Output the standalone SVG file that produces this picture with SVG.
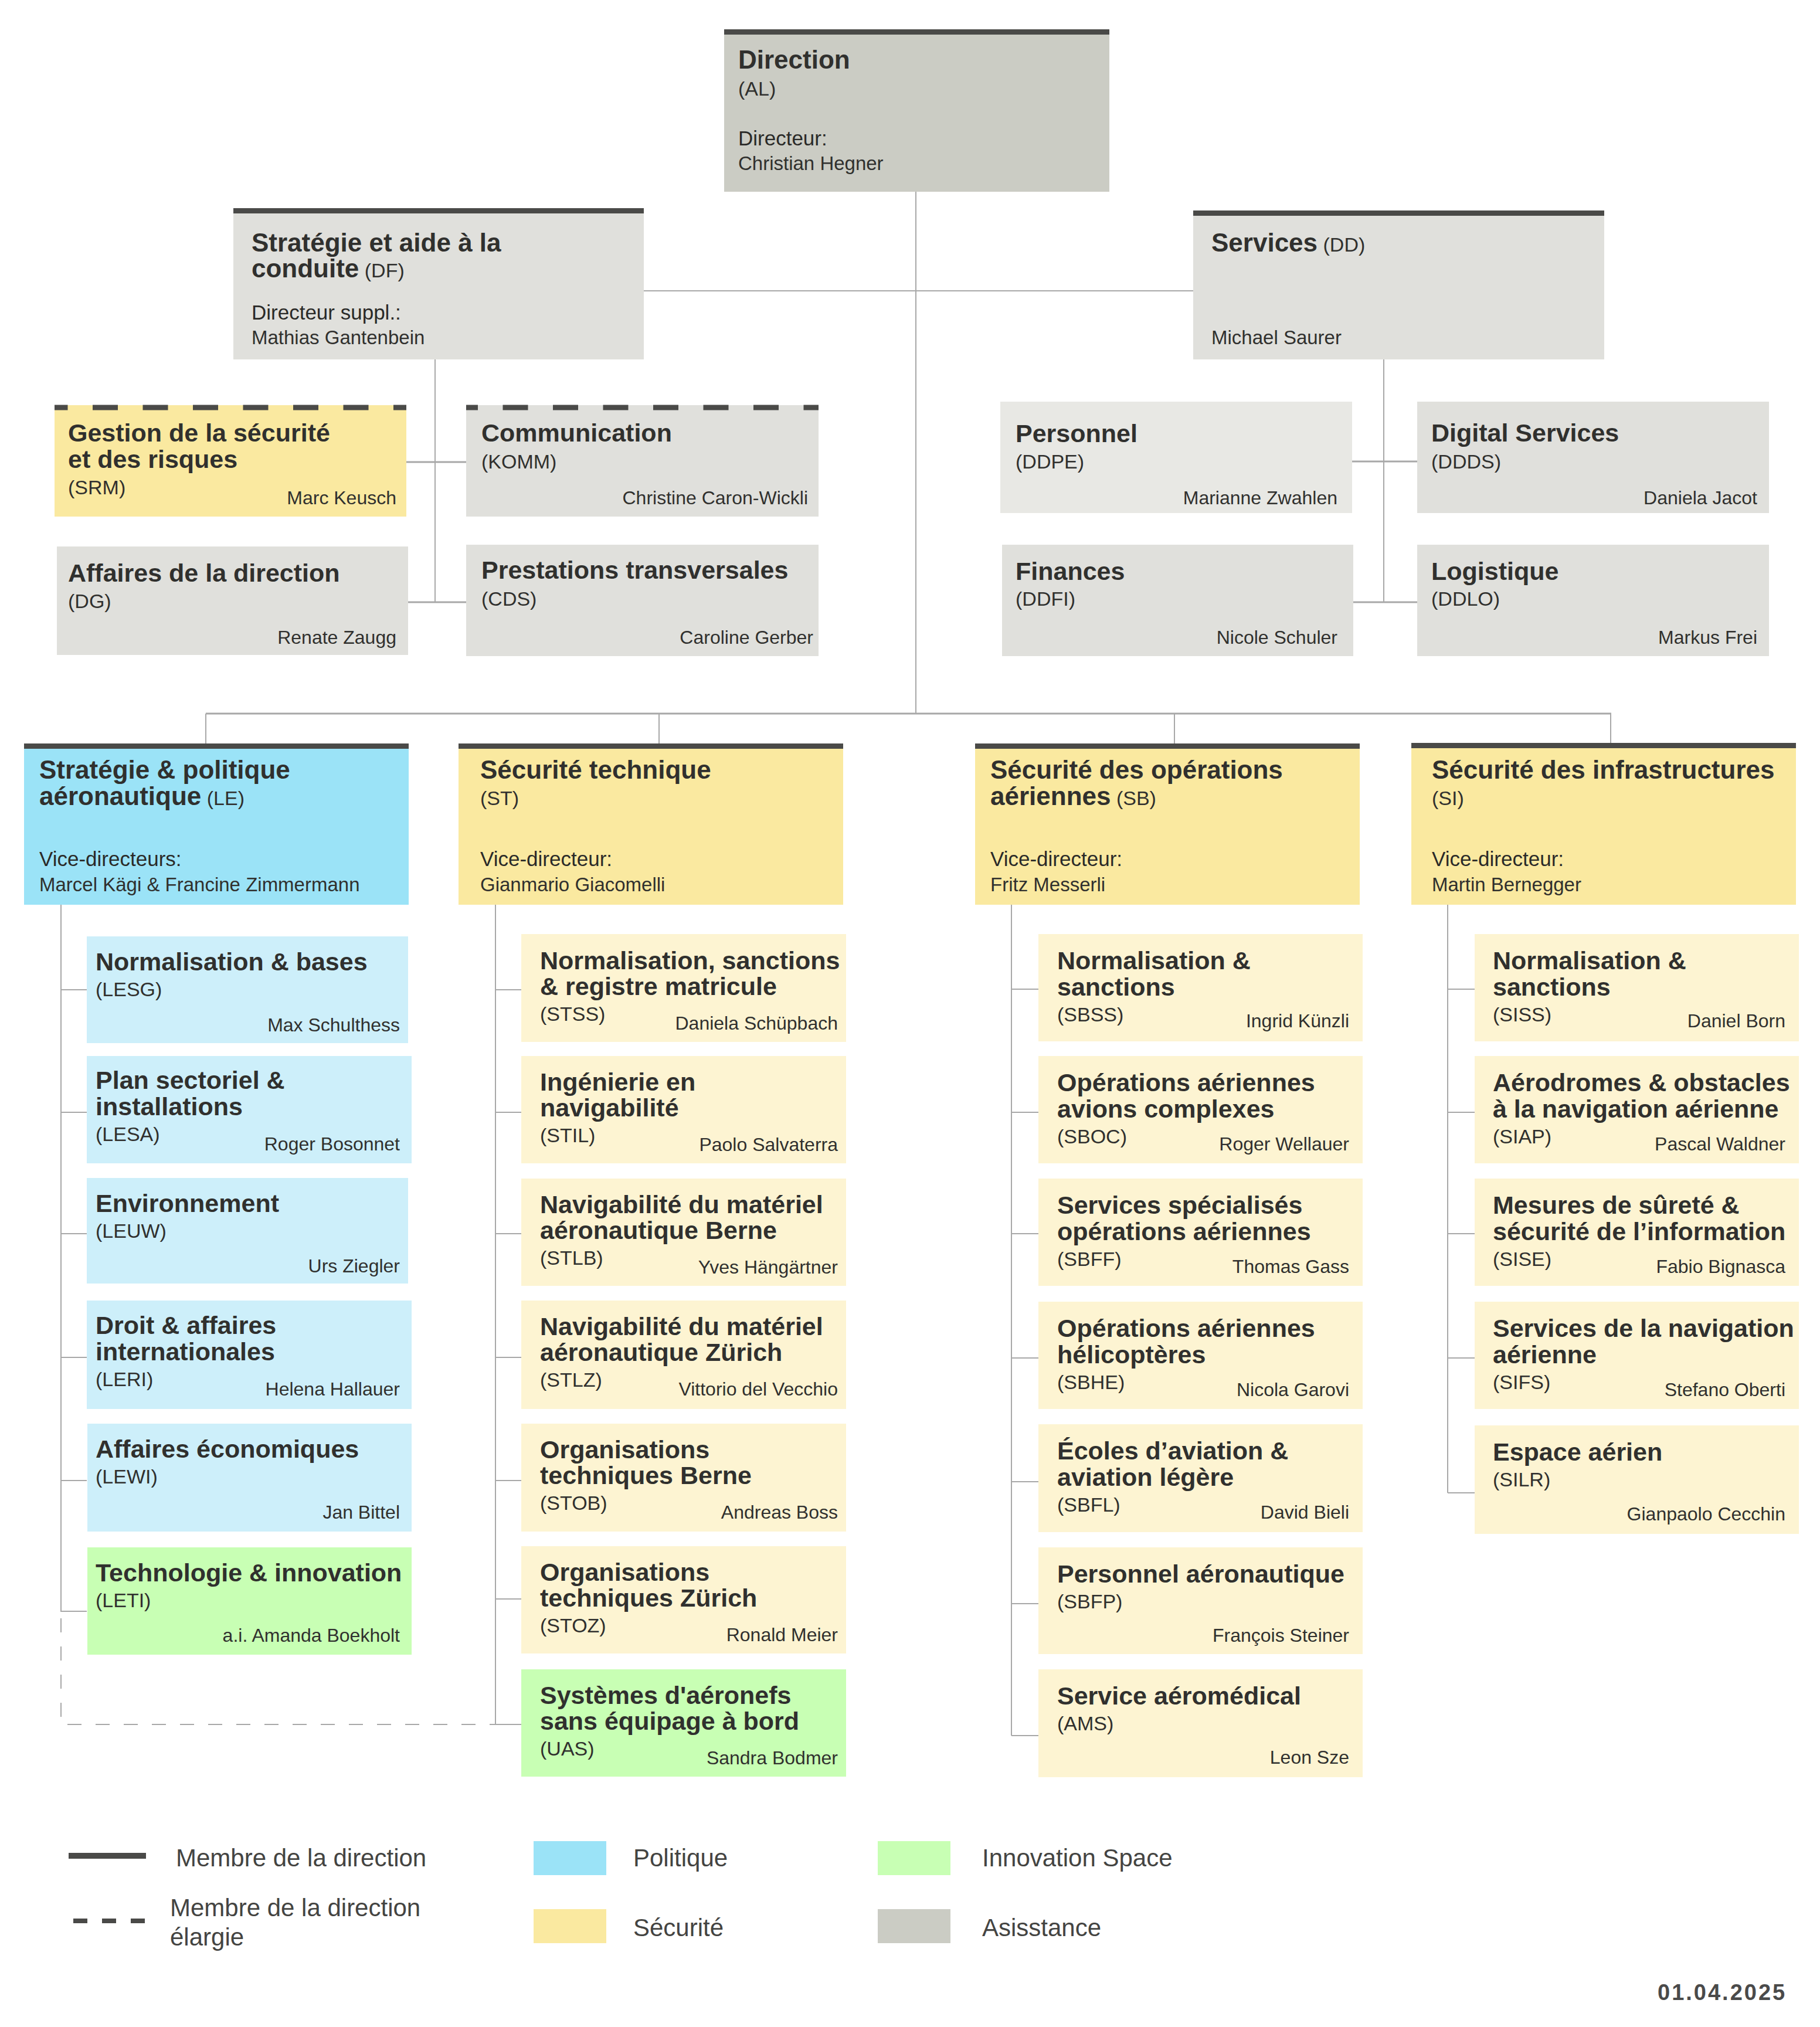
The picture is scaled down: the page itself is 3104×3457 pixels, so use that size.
<svg xmlns="http://www.w3.org/2000/svg" width="3104" height="3457" viewBox="0 0 3104 3457">
<style>
text{font-family:"Liberation Sans",Arial,sans-serif;fill:#30302e}
.h{font-size:44px;font-weight:bold}
.ct{font-size:43px;font-weight:bold}
.c{font-size:34px;font-weight:normal}
.n{font-size:33px}
.ne{font-size:32px;text-anchor:end}
.l{font-size:35px;fill:#2a2a28}
.lg{font-size:42px;fill:#444442}
.bar{fill:#4a4a48}
.gray{fill:#e0e0dc}
.grayl{fill:#e8e8e4}
.dir{fill:#cbccc4}
.blue{fill:#9be3f7}
.bluel{fill:#cdeffa}
.yel{fill:#fae9a0}
.yell{fill:#fdf4d2}
.grn{fill:#c8ffb4}
.cn{stroke:#a8a8a8;stroke-width:2;fill:none}
.cn3{stroke:#a8a8a8;stroke-width:3;fill:none}
.dash{stroke:#a8a8a8;stroke-width:2;fill:none;stroke-dasharray:24 24}
.tb{stroke:#4a4a48;stroke-width:9;fill:none;stroke-dasharray:43 42.5}
</style>
<rect width="3104" height="3457" fill="#ffffff"/>

<g id="connectors">
<line class="cn" x1="1562" y1="327" x2="1562" y2="1217"/>
<line class="cn" x1="1098" y1="496" x2="2035" y2="496"/>
<line class="cn" x1="742" y1="613" x2="742" y2="1028"/>
<line class="cn3" x1="693" y1="788" x2="795" y2="788"/>
<line class="cn3" x1="696" y1="1027" x2="795" y2="1027"/>
<line class="cn" x1="2360" y1="613" x2="2360" y2="1027"/>
<line class="cn3" x1="2306" y1="787" x2="2417" y2="787"/>
<line class="cn3" x1="2308" y1="1027" x2="2417" y2="1027"/>
<line class="cn3" x1="351" y1="1217" x2="2748" y2="1217"/>
<line class="cn" x1="351" y1="1217" x2="351" y2="1268"/>
<line class="cn" x1="1124" y1="1217" x2="1124" y2="1268"/>
<line class="cn" x1="2003" y1="1217" x2="2003" y2="1268"/>
<line class="cn" x1="2747" y1="1217" x2="2747" y2="1268"/>
<!-- LE -->
<line class="cn" x1="104" y1="1543" x2="104" y2="2749"/>
<line class="cn" x1="104" y1="1688" x2="148" y2="1688"/>
<line class="cn" x1="104" y1="1897" x2="148" y2="1897"/>
<line class="cn" x1="104" y1="2104" x2="148" y2="2104"/>
<line class="cn" x1="104" y1="2315" x2="148" y2="2315"/>
<line class="cn" x1="104" y1="2525" x2="148" y2="2525"/>
<line class="cn" x1="104" y1="2748" x2="148" y2="2748"/>
<path class="dash" d="M104 2760 V2941 H845"/>
<!-- ST -->
<line class="cn" x1="845" y1="1543" x2="845" y2="2941"/>
<line class="cn" x1="845" y1="1688" x2="889" y2="1688"/>
<line class="cn" x1="845" y1="1897" x2="889" y2="1897"/>
<line class="cn" x1="845" y1="2104" x2="889" y2="2104"/>
<line class="cn" x1="845" y1="2315" x2="889" y2="2315"/>
<line class="cn" x1="845" y1="2525" x2="889" y2="2525"/>
<line class="cn" x1="845" y1="2727" x2="889" y2="2727"/>
<line class="cn" x1="845" y1="2941" x2="889" y2="2941"/>
<!-- SB -->
<line class="cn" x1="1725" y1="1543" x2="1725" y2="2960"/>
<line class="cn" x1="1725" y1="1687" x2="1771" y2="1687"/>
<line class="cn" x1="1725" y1="1897" x2="1771" y2="1897"/>
<line class="cn" x1="1725" y1="2104" x2="1771" y2="2104"/>
<line class="cn" x1="1725" y1="2316" x2="1771" y2="2316"/>
<line class="cn" x1="1725" y1="2527" x2="1771" y2="2527"/>
<line class="cn" x1="1725" y1="2735" x2="1771" y2="2735"/>
<line class="cn" x1="1725" y1="2960" x2="1771" y2="2960"/>
<!-- SI -->
<line class="cn" x1="2469" y1="1543" x2="2469" y2="2546"/>
<line class="cn" x1="2469" y1="1687" x2="2515" y2="1687"/>
<line class="cn" x1="2469" y1="1897" x2="2515" y2="1897"/>
<line class="cn" x1="2469" y1="2104" x2="2515" y2="2104"/>
<line class="cn" x1="2469" y1="2316" x2="2515" y2="2316"/>
<line class="cn" x1="2469" y1="2546" x2="2515" y2="2546"/>
</g>

<!-- Level 1 -->
<g id="AL">
<rect class="dir" x="1235" y="50" width="657" height="277"/>
<rect class="bar" x="1235" y="50" width="657" height="9"/>
<text class="h" x="1259" y="117">Direction</text>
<text class="c" x="1259" y="163">(AL)</text>
<text class="l" x="1259" y="248">Directeur:</text>
<text class="n" x="1259" y="290">Christian Hegner</text>
</g>

<g id="DF">
<rect class="gray" x="398" y="355" width="700" height="258"/>
<rect class="bar" x="398" y="355" width="700" height="9"/>
<text class="h" x="429" y="429">Stratégie et aide à la</text>
<text class="h" x="429" y="473">conduite<tspan class="c"> (DF)</tspan></text>
<text class="l" x="429" y="545">Directeur suppl.:</text>
<text class="n" x="429" y="587">Mathias Gantenbein</text>
</g>

<g id="DD">
<rect class="gray" x="2035" y="359" width="701" height="254"/>
<rect class="bar" x="2035" y="359" width="701" height="9"/>
<text class="h" x="2066" y="429">Services<tspan class="c"> (DD)</tspan></text>
<text class="n" x="2066" y="587">Michael Saurer</text>
</g>

<g id="SRM">
<rect class="yel" x="93" y="691" width="600" height="190"/>
<line class="tb" x1="93" y1="695" x2="693" y2="695" stroke-dashoffset="20.5"/>
<text class="ct" x="116" y="753">Gestion de la sécurité</text>
<text class="ct" x="116" y="798">et des risques</text>
<text class="c" x="116" y="843">(SRM)</text>
<text class="ne" x="676" y="860">Marc Keusch</text>
</g>

<g id="KOMM">
<rect class="gray" x="795" y="691" width="601" height="190"/>
<line class="tb" x1="795" y1="695" x2="1396" y2="695" stroke-dashoffset="23"/>
<text class="ct" x="821" y="753">Communication</text>
<text class="c" x="821" y="799">(KOMM)</text>
<text class="ne" x="1378" y="860">Christine Caron-Wickli</text>
</g>

<g id="DG">
<rect class="gray" x="97" y="932" width="599" height="185"/>
<text class="ct" x="116" y="992">Affaires de la direction</text>
<text class="c" x="116" y="1037">(DG)</text>
<text class="ne" x="676" y="1098">Renate Zaugg</text>
</g>

<g id="CDS">
<rect class="gray" x="795" y="929" width="601" height="190"/>
<text class="ct" x="821" y="987">Prestations transversales</text>
<text class="c" x="821" y="1033">(CDS)</text>
<text class="ne" x="1387" y="1098">Caroline Gerber</text>
</g>

<g id="DDPE">
<rect class="grayl" x="1706" y="685" width="600" height="190"/>
<text class="ct" x="1732" y="754">Personnel</text>
<text class="c" x="1732" y="799">(DDPE)</text>
<text class="ne" x="2281" y="860">Marianne Zwahlen</text>
</g>

<g id="DDDS">
<rect class="gray" x="2417" y="685" width="600" height="190"/>
<text class="ct" x="2441" y="753">Digital Services</text>
<text class="c" x="2441" y="799">(DDDS)</text>
<text class="ne" x="2997" y="860">Daniela Jacot</text>
</g>

<g id="DDFI">
<rect class="gray" x="1709" y="929" width="599" height="190"/>
<text class="ct" x="1732" y="989">Finances</text>
<text class="c" x="1732" y="1033">(DDFI)</text>
<text class="ne" x="2281" y="1098">Nicole Schuler</text>
</g>

<g id="DDLO">
<rect class="gray" x="2417" y="929" width="600" height="190"/>
<text class="ct" x="2441" y="989">Logistique</text>
<text class="c" x="2441" y="1033">(DDLO)</text>
<text class="ne" x="2997" y="1098">Markus Frei</text>
</g>

<!-- Level 3 heads -->
<g id="LE">
<rect class="blue" x="41" y="1268" width="656" height="275"/>
<rect class="bar" x="41" y="1268" width="656" height="9"/>
<text class="h" x="67" y="1328">Stratégie &amp; politique</text>
<text class="h" x="67" y="1373">aéronautique<tspan class="c"> (LE)</tspan></text>
<text class="l" x="67" y="1477">Vice-directeurs:</text>
<text class="n" x="67" y="1520">Marcel Kägi &amp; Francine Zimmermann</text>
</g>

<g id="ST">
<rect class="yel" x="782" y="1268" width="656" height="275"/>
<rect class="bar" x="782" y="1268" width="656" height="9"/>
<text class="h" x="819" y="1328">Sécurité technique</text>
<text class="c" x="819" y="1373">(ST)</text>
<text class="l" x="819" y="1477">Vice-directeur:</text>
<text class="n" x="819" y="1520">Gianmario Giacomelli</text>
</g>

<g id="SB">
<rect class="yel" x="1663" y="1268" width="656" height="275"/>
<rect class="bar" x="1663" y="1268" width="656" height="9"/>
<text class="h" x="1689" y="1328">Sécurité des opérations</text>
<text class="h" x="1689" y="1373">aériennes<tspan class="c"> (SB)</tspan></text>
<text class="l" x="1689" y="1477">Vice-directeur:</text>
<text class="n" x="1689" y="1520">Fritz Messerli</text>
</g>

<g id="SI">
<rect class="yel" x="2407" y="1267" width="656" height="276"/>
<rect class="bar" x="2407" y="1267" width="656" height="9"/>
<text class="h" x="2442" y="1328">Sécurité des infrastructures</text>
<text class="c" x="2442" y="1373">(SI)</text>
<text class="l" x="2442" y="1477">Vice-directeur:</text>
<text class="n" x="2442" y="1520">Martin Bernegger</text>
</g>

<!-- LE children -->
<g id="LESG"><rect class="bluel" x="148" y="1597" width="548" height="182"/>
<text class="ct" x="163" y="1655">Normalisation &amp; bases</text>
<text class="c" x="163" y="1699">(LESG)</text>
<text class="ne" x="682" y="1759">Max Schulthess</text></g>
<g id="LESA"><rect class="bluel" x="148" y="1801" width="554" height="183"/>
<text class="ct" x="163" y="1857">Plan sectoriel &amp;</text>
<text class="ct" x="163" y="1902">installations</text>
<text class="c" x="163" y="1946">(LESA)</text>
<text class="ne" x="682" y="1962">Roger Bosonnet</text></g>
<g id="LEUW"><rect class="bluel" x="148" y="2009" width="548" height="180"/>
<text class="ct" x="163" y="2067">Environnement</text>
<text class="c" x="163" y="2111">(LEUW)</text>
<text class="ne" x="682" y="2170">Urs Ziegler</text></g>
<g id="LERI"><rect class="bluel" x="148" y="2218" width="554" height="185"/>
<text class="ct" x="163" y="2275">Droit &amp; affaires</text>
<text class="ct" x="163" y="2320">internationales</text>
<text class="c" x="163" y="2364">(LERI)</text>
<text class="ne" x="682" y="2380">Helena Hallauer</text></g>
<g id="LEWI"><rect class="bluel" x="149" y="2428" width="553" height="184"/>
<text class="ct" x="163" y="2486">Affaires économiques</text>
<text class="c" x="163" y="2530">(LEWI)</text>
<text class="ne" x="682" y="2590">Jan Bittel</text></g>
<g id="LETI"><rect class="grn" x="149" y="2639" width="553" height="183"/>
<text class="ct" x="163" y="2697">Technologie &amp; innovation</text>
<text class="c" x="163" y="2741">(LETI)</text>
<text class="ne" x="682" y="2800">a.i. Amanda Boekholt</text></g>

<!-- ST children -->
<g id="STSS"><rect class="yell" x="889" y="1593" width="554" height="184"/>
<text class="ct" x="921" y="1653">Normalisation, sanctions</text>
<text class="ct" x="921" y="1697">&amp; registre matricule</text>
<text class="c" x="921" y="1741">(STSS)</text>
<text class="ne" x="1429" y="1756">Daniela Schüpbach</text></g>
<g id="STIL"><rect class="yell" x="889" y="1801" width="554" height="183"/>
<text class="ct" x="921" y="1860">Ingénierie en</text>
<text class="ct" x="921" y="1904">navigabilité</text>
<text class="c" x="921" y="1948">(STIL)</text>
<text class="ne" x="1429" y="1963">Paolo Salvaterra</text></g>
<g id="STLB"><rect class="yell" x="889" y="2010" width="554" height="183"/>
<text class="ct" x="921" y="2069">Navigabilité du matériel</text>
<text class="ct" x="921" y="2113">aéronautique Berne</text>
<text class="c" x="921" y="2157">(STLB)</text>
<text class="ne" x="1429" y="2172">Yves Hängärtner</text></g>
<g id="STLZ"><rect class="yell" x="889" y="2218" width="554" height="185"/>
<text class="ct" x="921" y="2277">Navigabilité du matériel</text>
<text class="ct" x="921" y="2321">aéronautique Zürich</text>
<text class="c" x="921" y="2365">(STLZ)</text>
<text class="ne" x="1429" y="2380">Vittorio del Vecchio</text></g>
<g id="STOB"><rect class="yell" x="889" y="2428" width="554" height="184"/>
<text class="ct" x="921" y="2487">Organisations</text>
<text class="ct" x="921" y="2531">techniques Berne</text>
<text class="c" x="921" y="2575">(STOB)</text>
<text class="ne" x="1429" y="2590">Andreas Boss</text></g>
<g id="STOZ"><rect class="yell" x="889" y="2637" width="554" height="183"/>
<text class="ct" x="921" y="2696">Organisations</text>
<text class="ct" x="921" y="2740">techniques Zürich</text>
<text class="c" x="921" y="2784">(STOZ)</text>
<text class="ne" x="1429" y="2799">Ronald Meier</text></g>
<g id="UAS"><rect class="grn" x="889" y="2847" width="554" height="183"/>
<text class="ct" x="921" y="2906">Systèmes d'aéronefs</text>
<text class="ct" x="921" y="2950">sans équipage à bord</text>
<text class="c" x="921" y="2994">(UAS)</text>
<text class="ne" x="1429" y="3009">Sandra Bodmer</text></g>

<!-- SB children -->
<g id="SBSS"><rect class="yell" x="1771" y="1593" width="553" height="183"/>
<text class="ct" x="1803" y="1653">Normalisation &amp;</text>
<text class="ct" x="1803" y="1698">sanctions</text>
<text class="c" x="1803" y="1742">(SBSS)</text>
<text class="ne" x="2301" y="1752">Ingrid Künzli</text></g>
<g id="SBOC"><rect class="yell" x="1771" y="1801" width="553" height="183"/>
<text class="ct" x="1803" y="1861">Opérations aériennes</text>
<text class="ct" x="1803" y="1906">avions complexes</text>
<text class="c" x="1803" y="1950">(SBOC)</text>
<text class="ne" x="2301" y="1962">Roger Wellauer</text></g>
<g id="SBFF"><rect class="yell" x="1771" y="2010" width="553" height="183"/>
<text class="ct" x="1803" y="2070">Services spécialisés</text>
<text class="ct" x="1803" y="2115">opérations aériennes</text>
<text class="c" x="1803" y="2159">(SBFF)</text>
<text class="ne" x="2301" y="2171">Thomas Gass</text></g>
<g id="SBHE"><rect class="yell" x="1771" y="2220" width="553" height="183"/>
<text class="ct" x="1803" y="2280">Opérations aériennes</text>
<text class="ct" x="1803" y="2325">hélicoptères</text>
<text class="c" x="1803" y="2369">(SBHE)</text>
<text class="ne" x="2301" y="2381">Nicola Garovi</text></g>
<g id="SBFL"><rect class="yell" x="1771" y="2429" width="553" height="184"/>
<text class="ct" x="1803" y="2489">Écoles d’aviation &amp;</text>
<text class="ct" x="1803" y="2534">aviation légère</text>
<text class="c" x="1803" y="2578">(SBFL)</text>
<text class="ne" x="2301" y="2590">David Bieli</text></g>
<g id="SBFP"><rect class="yell" x="1771" y="2639" width="553" height="182"/>
<text class="ct" x="1803" y="2699">Personnel aéronautique</text>
<text class="c" x="1803" y="2743">(SBFP)</text>
<text class="ne" x="2301" y="2800">François Steiner</text></g>
<g id="AMS"><rect class="yell" x="1771" y="2847" width="553" height="184"/>
<text class="ct" x="1803" y="2907">Service aéromédical</text>
<text class="c" x="1803" y="2951">(AMS)</text>
<text class="ne" x="2301" y="3008">Leon Sze</text></g>

<!-- SI children -->
<g id="SISS"><rect class="yell" x="2515" y="1593" width="553" height="183"/>
<text class="ct" x="2546" y="1653">Normalisation &amp;</text>
<text class="ct" x="2546" y="1698">sanctions</text>
<text class="c" x="2546" y="1742">(SISS)</text>
<text class="ne" x="3045" y="1752">Daniel Born</text></g>
<g id="SIAP"><rect class="yell" x="2515" y="1801" width="553" height="183"/>
<text class="ct" x="2546" y="1861">Aérodromes &amp; obstacles</text>
<text class="ct" x="2546" y="1906">à la navigation aérienne</text>
<text class="c" x="2546" y="1950">(SIAP)</text>
<text class="ne" x="3045" y="1962">Pascal Waldner</text></g>
<g id="SISE"><rect class="yell" x="2515" y="2010" width="553" height="183"/>
<text class="ct" x="2546" y="2070">Mesures de sûreté &amp;</text>
<text class="ct" x="2546" y="2115">sécurité de l’information</text>
<text class="c" x="2546" y="2159">(SISE)</text>
<text class="ne" x="3045" y="2171">Fabio Bignasca</text></g>
<g id="SIFS"><rect class="yell" x="2515" y="2220" width="553" height="183"/>
<text class="ct" x="2546" y="2280">Services de la navigation</text>
<text class="ct" x="2546" y="2325">aérienne</text>
<text class="c" x="2546" y="2369">(SIFS)</text>
<text class="ne" x="3045" y="2381">Stefano Oberti</text></g>
<g id="SILR"><rect class="yell" x="2515" y="2431" width="553" height="185"/>
<text class="ct" x="2546" y="2491">Espace aérien</text>
<text class="c" x="2546" y="2535">(SILR)</text>
<text class="ne" x="3045" y="2593">Gianpaolo Cecchin</text></g>

<!-- Legend -->
<g id="legend">
<line x1="117" y1="3165" x2="249" y2="3165" stroke="#4a4a48" stroke-width="10"/>
<line x1="125" y1="3276" x2="249" y2="3276" stroke="#4a4a48" stroke-width="8" stroke-dasharray="24 25"/>
<text class="lg" x="300" y="3183">Membre de la direction</text>
<text class="lg" x="290" y="3268">Membre de la direction</text>
<text class="lg" x="290" y="3318">élargie</text>
<rect class="blue" x="910" y="3140" width="124" height="58"/>
<rect class="yel" x="910" y="3256" width="124" height="58"/>
<rect class="grn" x="1497" y="3140" width="124" height="58"/>
<rect class="dir" x="1497" y="3256" width="124" height="58"/>
<text class="lg" x="1080" y="3183">Politique</text>
<text class="lg" x="1080" y="3302">Sécurité</text>
<text class="lg" x="1675" y="3183">Innovation Space</text>
<text class="lg" x="1675" y="3302">Asisstance</text>
</g>
<text x="2827" y="3411" style="font-size:38px;font-weight:bold;fill:#4a4a4a;letter-spacing:3px">01.04.2025</text>
</svg>
